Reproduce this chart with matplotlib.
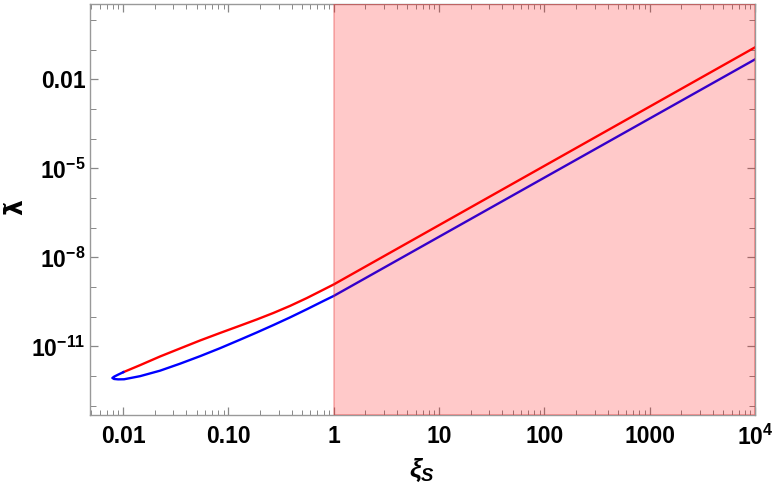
import numpy as np
import matplotlib
matplotlib.use('Agg')
import matplotlib.pyplot as plt
from matplotlib.ticker import FixedLocator, NullFormatter

plt.rcParams['font.family'] = ['Liberation Sans', 'DejaVu Sans']
plt.rcParams['mathtext.fontset'] = 'custom'
plt.rcParams['mathtext.rm'] = 'Liberation Sans'
plt.rcParams['mathtext.bf'] = 'Liberation Sans:bold'
plt.rcParams['mathtext.it'] = 'Liberation Sans:italic:bold'

# upper branch (red)
xi_red = [0.01006, 0.0145, 0.02245, 0.03478, 0.05387, 0.08344, 0.1292, 0.1862,
          0.2677, 0.3857, 0.5558, 0.799, 1.0, 2.0, 10, 100, 1000, 10000]
lam_red = [1.364e-12, 2.35e-12, 4.61e-12, 8.59e-12, 1.596e-11, 2.857e-11, 5.04e-11, 8.15e-11,
           1.349e-10, 2.34e-10, 4.29e-10, 8.23e-10, 1.232e-9, 4.92e-9, 1.224e-7, 1.216e-5,
           1.208e-3, 0.1199]

# lower branch (blue), starts where the red one starts and turns round the tip
xi_blue = [0.01006, 0.008965, 0.008214, 0.007913, 0.008214, 0.008965, 0.01022, 0.0145,
           0.02245, 0.03478, 0.05387, 0.08344, 0.1292, 0.1862, 0.2677, 0.3857, 0.5558,
           0.799, 1.0, 2.0, 10, 100, 1000, 10000]
lam_blue = [1.364e-12, 1.125e-12, 9.62e-13, 8.69e-13, 8.04e-13, 7.8e-13, 7.86e-13, 1.0e-12,
            1.532e-12, 2.637e-12, 4.72e-12, 8.78e-12, 1.698e-11, 2.97e-11, 5.28e-11, 9.59e-11,
            1.798e-10, 3.42e-10, 5.05e-10, 2.01e-9, 4.97e-8, 4.89e-6, 4.8e-4, 0.0472]

x_major = [0.01, 0.1, 1, 10, 100, 1000, 10000]
x_labels = ['0.01', '0.10', '1', '10', '100', '1000', r'$\mathbf{10^4}$']
y_major = [1e-2, 1e-5, 1e-8, 1e-11]
y_labels = ['0.01', r'$\mathbf{10^{-5}}$', r'$\mathbf{10^{-8}}$', r'$\mathbf{10^{-11}}$']
y_minor = [10.0 ** k for k in range(-13, 1)]
x_minor = [m * 10.0 ** k for k in range(-3, 4) for m in range(2, 10)]

fig = plt.figure(figsize=(7.72, 4.86), dpi=100)
ax = fig.add_axes([0.1166, 0.146, 0.8614, 0.8458])

ax.plot(xi_red, lam_red, color='#ff0000', lw=1.7, zorder=2)
ax.plot(xi_blue, lam_blue, color='#0000ff', lw=1.7, zorder=2)
ax.axvspan(1, 1e4, facecolor=(1, 0, 0, 0.21), edgecolor=(0.9, 0.2, 0.2, 0.35),
           lw=1.2, zorder=3)

ax.set_xscale('log')
ax.set_yscale('log')
ax.set_xlim(10 ** -2.314, 1e4)
ax.set_ylim(10 ** -13.31, 10 ** 0.54)

ax.set_xticks(x_major, x_labels)
ax.set_yticks(y_major, y_labels)
ax.xaxis.set_minor_locator(FixedLocator(x_minor))
ax.yaxis.set_minor_locator(FixedLocator([v for v in y_minor if v not in y_major]))
ax.xaxis.set_minor_formatter(NullFormatter())
ax.yaxis.set_minor_formatter(NullFormatter())

for lab in ax.get_xticklabels() + ax.get_yticklabels():
    lab.set_fontweight('bold')
    lab.set_fontsize(16.5)

ax.tick_params(which='both', direction='in', top=True, right=True, color='#888888')
ax.tick_params(axis='x', which='major', length=6, width=0.9, pad=7)
ax.tick_params(axis='x', which='minor', length=3.5, width=0.7)
ax.tick_params(axis='y', which='major', length=6, width=0.9, pad=3)
ax.tick_params(axis='y', which='minor', length=4, width=0.7)
for sp in ax.spines.values():
    sp.set_color('#999999')
    sp.set_linewidth(1.0)

fig.text(422 / 772, 1 - 470 / 486, r'$\xi_S$', fontsize=19, ha='center', va='center')
fig.text(15 / 772, 1 - 207 / 486, '\u03bb\u0303', rotation=90, fontsize=18,
         fontweight='bold', ha='center', va='center', family=['DejaVu Sans'])

fig.savefig('out.png', dpi=100)
